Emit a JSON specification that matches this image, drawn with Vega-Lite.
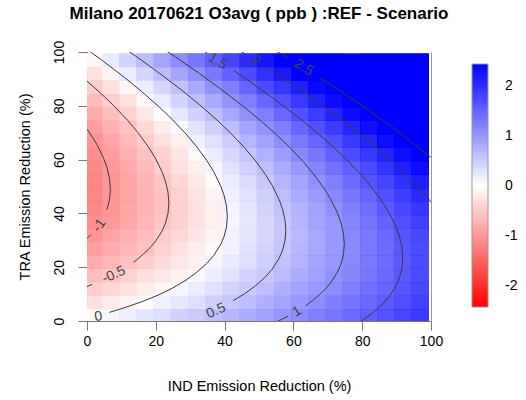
{
"$schema": "https://vega.github.io/schema/vega-lite/v6.json",
"width": 344,
"height": 269,
"autosize": {"type": "none"},
"padding": {"left": 87, "top": 52, "right": 95, "bottom": 79},
"background": "white",
"config": {"font": "Liberation Sans", "view": {"stroke": null}},
"title": {"text": "Milano 20170621 O3avg ( ppb ) :REF - Scenario", "fontSize": 17, "fontWeight": "bold", "font": "Liberation Sans", "color": "black", "anchor": "middle", "offset": 17},
"datasets": {
"grid": [
{"x":2.5,"y":2.5,"v":-0.03},{"x":2.5,"y":7.5,"v":-0.25},{"x":2.5,"y":12.5,"v":-0.44},{"x":2.5,"y":17.5,"v":-0.61},{"x":2.5,"y":22.5,"v":-0.76},{"x":2.5,"y":27.5,"v":-0.88},{"x":2.5,"y":32.5,"v":-0.98},{"x":2.5,"y":37.5,"v":-1.05},{"x":2.5,"y":42.5,"v":-1.10},{"x":2.5,"y":47.5,"v":-1.12},{"x":2.5,"y":52.5,"v":-1.12},{"x":2.5,"y":57.5,"v":-1.10},{"x":2.5,"y":62.5,"v":-1.05},{"x":2.5,"y":67.5,"v":-0.98},{"x":2.5,"y":72.5,"v":-0.89},{"x":2.5,"y":77.5,"v":-0.77},{"x":2.5,"y":82.5,"v":-0.63},{"x":2.5,"y":87.5,"v":-0.46},{"x":2.5,"y":92.5,"v":-0.27},{"x":2.5,"y":97.5,"v":-0.05},
{"x":7.5,"y":2.5,"v":0.05},{"x":7.5,"y":7.5,"v":-0.16},{"x":7.5,"y":12.5,"v":-0.35},{"x":7.5,"y":17.5,"v":-0.51},{"x":7.5,"y":22.5,"v":-0.65},{"x":7.5,"y":27.5,"v":-0.76},{"x":7.5,"y":32.5,"v":-0.85},{"x":7.5,"y":37.5,"v":-0.92},{"x":7.5,"y":42.5,"v":-0.96},{"x":7.5,"y":47.5,"v":-0.98},{"x":7.5,"y":52.5,"v":-0.97},{"x":7.5,"y":57.5,"v":-0.94},{"x":7.5,"y":62.5,"v":-0.89},{"x":7.5,"y":67.5,"v":-0.81},{"x":7.5,"y":72.5,"v":-0.71},{"x":7.5,"y":77.5,"v":-0.58},{"x":7.5,"y":82.5,"v":-0.43},{"x":7.5,"y":87.5,"v":-0.26},{"x":7.5,"y":92.5,"v":-0.06},{"x":7.5,"y":97.5,"v":0.16},
{"x":12.5,"y":2.5,"v":0.13},{"x":12.5,"y":7.5,"v":-0.07},{"x":12.5,"y":12.5,"v":-0.25},{"x":12.5,"y":17.5,"v":-0.41},{"x":12.5,"y":22.5,"v":-0.54},{"x":12.5,"y":27.5,"v":-0.65},{"x":12.5,"y":32.5,"v":-0.73},{"x":12.5,"y":37.5,"v":-0.79},{"x":12.5,"y":42.5,"v":-0.82},{"x":12.5,"y":47.5,"v":-0.83},{"x":12.5,"y":52.5,"v":-0.82},{"x":12.5,"y":57.5,"v":-0.78},{"x":12.5,"y":62.5,"v":-0.72},{"x":12.5,"y":67.5,"v":-0.64},{"x":12.5,"y":72.5,"v":-0.53},{"x":12.5,"y":77.5,"v":-0.39},{"x":12.5,"y":82.5,"v":-0.24},{"x":12.5,"y":87.5,"v":-0.05},{"x":12.5,"y":92.5,"v":0.15},{"x":12.5,"y":97.5,"v":0.38},
{"x":17.5,"y":2.5,"v":0.21},{"x":17.5,"y":7.5,"v":0.02},{"x":17.5,"y":12.5,"v":-0.15},{"x":17.5,"y":17.5,"v":-0.30},{"x":17.5,"y":22.5,"v":-0.43},{"x":17.5,"y":27.5,"v":-0.53},{"x":17.5,"y":32.5,"v":-0.60},{"x":17.5,"y":37.5,"v":-0.65},{"x":17.5,"y":42.5,"v":-0.68},{"x":17.5,"y":47.5,"v":-0.68},{"x":17.5,"y":52.5,"v":-0.66},{"x":17.5,"y":57.5,"v":-0.62},{"x":17.5,"y":62.5,"v":-0.55},{"x":17.5,"y":67.5,"v":-0.46},{"x":17.5,"y":72.5,"v":-0.34},{"x":17.5,"y":77.5,"v":-0.20},{"x":17.5,"y":82.5,"v":-0.04},{"x":17.5,"y":87.5,"v":0.15},{"x":17.5,"y":92.5,"v":0.36},{"x":17.5,"y":97.5,"v":0.60},
{"x":22.5,"y":2.5,"v":0.30},{"x":22.5,"y":7.5,"v":0.11},{"x":22.5,"y":12.5,"v":-0.05},{"x":22.5,"y":17.5,"v":-0.20},{"x":22.5,"y":22.5,"v":-0.31},{"x":22.5,"y":27.5,"v":-0.40},{"x":22.5,"y":32.5,"v":-0.47},{"x":22.5,"y":37.5,"v":-0.52},{"x":22.5,"y":42.5,"v":-0.54},{"x":22.5,"y":47.5,"v":-0.53},{"x":22.5,"y":52.5,"v":-0.51},{"x":22.5,"y":57.5,"v":-0.45},{"x":22.5,"y":62.5,"v":-0.38},{"x":22.5,"y":67.5,"v":-0.28},{"x":22.5,"y":72.5,"v":-0.16},{"x":22.5,"y":77.5,"v":-0.01},{"x":22.5,"y":82.5,"v":0.16},{"x":22.5,"y":87.5,"v":0.36},{"x":22.5,"y":92.5,"v":0.58},{"x":22.5,"y":97.5,"v":0.82},
{"x":27.5,"y":2.5,"v":0.39},{"x":27.5,"y":7.5,"v":0.20},{"x":27.5,"y":12.5,"v":0.05},{"x":27.5,"y":17.5,"v":-0.09},{"x":27.5,"y":22.5,"v":-0.19},{"x":27.5,"y":27.5,"v":-0.28},{"x":27.5,"y":32.5,"v":-0.34},{"x":27.5,"y":37.5,"v":-0.38},{"x":27.5,"y":42.5,"v":-0.39},{"x":27.5,"y":47.5,"v":-0.38},{"x":27.5,"y":52.5,"v":-0.35},{"x":27.5,"y":57.5,"v":-0.29},{"x":27.5,"y":62.5,"v":-0.20},{"x":27.5,"y":67.5,"v":-0.10},{"x":27.5,"y":72.5,"v":0.03},{"x":27.5,"y":77.5,"v":0.19},{"x":27.5,"y":82.5,"v":0.37},{"x":27.5,"y":87.5,"v":0.57},{"x":27.5,"y":92.5,"v":0.80},{"x":27.5,"y":97.5,"v":1.05},
{"x":32.5,"y":2.5,"v":0.48},{"x":32.5,"y":7.5,"v":0.30},{"x":32.5,"y":12.5,"v":0.15},{"x":32.5,"y":17.5,"v":0.03},{"x":32.5,"y":22.5,"v":-0.08},{"x":32.5,"y":27.5,"v":-0.15},{"x":32.5,"y":32.5,"v":-0.21},{"x":32.5,"y":37.5,"v":-0.24},{"x":32.5,"y":42.5,"v":-0.24},{"x":32.5,"y":47.5,"v":-0.23},{"x":32.5,"y":52.5,"v":-0.18},{"x":32.5,"y":57.5,"v":-0.12},{"x":32.5,"y":62.5,"v":-0.03},{"x":32.5,"y":67.5,"v":0.09},{"x":32.5,"y":72.5,"v":0.22},{"x":32.5,"y":77.5,"v":0.39},{"x":32.5,"y":82.5,"v":0.57},{"x":32.5,"y":87.5,"v":0.78},{"x":32.5,"y":92.5,"v":1.02},{"x":32.5,"y":97.5,"v":1.27},
{"x":37.5,"y":2.5,"v":0.57},{"x":37.5,"y":7.5,"v":0.40},{"x":37.5,"y":12.5,"v":0.26},{"x":37.5,"y":17.5,"v":0.14},{"x":37.5,"y":22.5,"v":0.05},{"x":37.5,"y":27.5,"v":-0.03},{"x":37.5,"y":32.5,"v":-0.07},{"x":37.5,"y":37.5,"v":-0.10},{"x":37.5,"y":42.5,"v":-0.09},{"x":37.5,"y":47.5,"v":-0.07},{"x":37.5,"y":52.5,"v":-0.02},{"x":37.5,"y":57.5,"v":0.05},{"x":37.5,"y":62.5,"v":0.15},{"x":37.5,"y":67.5,"v":0.27},{"x":37.5,"y":72.5,"v":0.42},{"x":37.5,"y":77.5,"v":0.59},{"x":37.5,"y":82.5,"v":0.78},{"x":37.5,"y":87.5,"v":1.00},{"x":37.5,"y":92.5,"v":1.24},{"x":37.5,"y":97.5,"v":1.50},
{"x":42.5,"y":2.5,"v":0.66},{"x":42.5,"y":7.5,"v":0.50},{"x":42.5,"y":12.5,"v":0.37},{"x":42.5,"y":17.5,"v":0.26},{"x":42.5,"y":22.5,"v":0.17},{"x":42.5,"y":27.5,"v":0.10},{"x":42.5,"y":32.5,"v":0.07},{"x":42.5,"y":37.5,"v":0.05},{"x":42.5,"y":42.5,"v":0.06},{"x":42.5,"y":47.5,"v":0.09},{"x":42.5,"y":52.5,"v":0.15},{"x":42.5,"y":57.5,"v":0.23},{"x":42.5,"y":62.5,"v":0.33},{"x":42.5,"y":67.5,"v":0.46},{"x":42.5,"y":72.5,"v":0.61},{"x":42.5,"y":77.5,"v":0.79},{"x":42.5,"y":82.5,"v":0.99},{"x":42.5,"y":87.5,"v":1.21},{"x":42.5,"y":92.5,"v":1.46},{"x":42.5,"y":97.5,"v":1.73},
{"x":47.5,"y":2.5,"v":0.76},{"x":47.5,"y":7.5,"v":0.61},{"x":47.5,"y":12.5,"v":0.48},{"x":47.5,"y":17.5,"v":0.37},{"x":47.5,"y":22.5,"v":0.29},{"x":47.5,"y":27.5,"v":0.24},{"x":47.5,"y":32.5,"v":0.21},{"x":47.5,"y":37.5,"v":0.20},{"x":47.5,"y":42.5,"v":0.21},{"x":47.5,"y":47.5,"v":0.25},{"x":47.5,"y":52.5,"v":0.32},{"x":47.5,"y":57.5,"v":0.40},{"x":47.5,"y":62.5,"v":0.51},{"x":47.5,"y":67.5,"v":0.65},{"x":47.5,"y":72.5,"v":0.81},{"x":47.5,"y":77.5,"v":0.99},{"x":47.5,"y":82.5,"v":1.20},{"x":47.5,"y":87.5,"v":1.43},{"x":47.5,"y":92.5,"v":1.69},{"x":47.5,"y":97.5,"v":1.97},
{"x":52.5,"y":2.5,"v":0.86},{"x":52.5,"y":7.5,"v":0.71},{"x":52.5,"y":12.5,"v":0.59},{"x":52.5,"y":17.5,"v":0.49},{"x":52.5,"y":22.5,"v":0.42},{"x":52.5,"y":27.5,"v":0.37},{"x":52.5,"y":32.5,"v":0.35},{"x":52.5,"y":37.5,"v":0.35},{"x":52.5,"y":42.5,"v":0.37},{"x":52.5,"y":47.5,"v":0.42},{"x":52.5,"y":52.5,"v":0.49},{"x":52.5,"y":57.5,"v":0.58},{"x":52.5,"y":62.5,"v":0.70},{"x":52.5,"y":67.5,"v":0.84},{"x":52.5,"y":72.5,"v":1.01},{"x":52.5,"y":77.5,"v":1.20},{"x":52.5,"y":82.5,"v":1.42},{"x":52.5,"y":87.5,"v":1.65},{"x":52.5,"y":92.5,"v":1.92},{"x":52.5,"y":97.5,"v":2.20},
{"x":57.5,"y":2.5,"v":0.96},{"x":57.5,"y":7.5,"v":0.82},{"x":57.5,"y":12.5,"v":0.71},{"x":57.5,"y":17.5,"v":0.62},{"x":57.5,"y":22.5,"v":0.55},{"x":57.5,"y":27.5,"v":0.51},{"x":57.5,"y":32.5,"v":0.49},{"x":57.5,"y":37.5,"v":0.50},{"x":57.5,"y":42.5,"v":0.53},{"x":57.5,"y":47.5,"v":0.58},{"x":57.5,"y":52.5,"v":0.66},{"x":57.5,"y":57.5,"v":0.76},{"x":57.5,"y":62.5,"v":0.89},{"x":57.5,"y":67.5,"v":1.04},{"x":57.5,"y":72.5,"v":1.21},{"x":57.5,"y":77.5,"v":1.41},{"x":57.5,"y":82.5,"v":1.63},{"x":57.5,"y":87.5,"v":1.88},{"x":57.5,"y":92.5,"v":2.15},{"x":57.5,"y":97.5,"v":2.44},
{"x":62.5,"y":2.5,"v":1.06},{"x":62.5,"y":7.5,"v":0.93},{"x":62.5,"y":12.5,"v":0.82},{"x":62.5,"y":17.5,"v":0.74},{"x":62.5,"y":22.5,"v":0.68},{"x":62.5,"y":27.5,"v":0.65},{"x":62.5,"y":32.5,"v":0.64},{"x":62.5,"y":37.5,"v":0.65},{"x":62.5,"y":42.5,"v":0.69},{"x":62.5,"y":47.5,"v":0.75},{"x":62.5,"y":52.5,"v":0.83},{"x":62.5,"y":57.5,"v":0.94},{"x":62.5,"y":62.5,"v":1.08},{"x":62.5,"y":67.5,"v":1.23},{"x":62.5,"y":72.5,"v":1.42},{"x":62.5,"y":77.5,"v":1.62},{"x":62.5,"y":82.5,"v":1.85},{"x":62.5,"y":87.5,"v":2.10},{"x":62.5,"y":92.5,"v":2.38},{"x":62.5,"y":97.5,"v":2.68},
{"x":67.5,"y":2.5,"v":1.17},{"x":67.5,"y":7.5,"v":1.04},{"x":67.5,"y":12.5,"v":0.94},{"x":67.5,"y":17.5,"v":0.87},{"x":67.5,"y":22.5,"v":0.82},{"x":67.5,"y":27.5,"v":0.79},{"x":67.5,"y":32.5,"v":0.79},{"x":67.5,"y":37.5,"v":0.81},{"x":67.5,"y":42.5,"v":0.85},{"x":67.5,"y":47.5,"v":0.92},{"x":67.5,"y":52.5,"v":1.01},{"x":67.5,"y":57.5,"v":1.13},{"x":67.5,"y":62.5,"v":1.27},{"x":67.5,"y":67.5,"v":1.43},{"x":67.5,"y":72.5,"v":1.62},{"x":67.5,"y":77.5,"v":1.83},{"x":67.5,"y":82.5,"v":2.07},{"x":67.5,"y":87.5,"v":2.33},{"x":67.5,"y":92.5,"v":2.61},{"x":67.5,"y":97.5,"v":2.92},
{"x":72.5,"y":2.5,"v":1.27},{"x":72.5,"y":7.5,"v":1.16},{"x":72.5,"y":12.5,"v":1.07},{"x":72.5,"y":17.5,"v":1.00},{"x":72.5,"y":22.5,"v":0.95},{"x":72.5,"y":27.5,"v":0.93},{"x":72.5,"y":32.5,"v":0.94},{"x":72.5,"y":37.5,"v":0.96},{"x":72.5,"y":42.5,"v":1.02},{"x":72.5,"y":47.5,"v":1.09},{"x":72.5,"y":52.5,"v":1.19},{"x":72.5,"y":57.5,"v":1.31},{"x":72.5,"y":62.5,"v":1.46},{"x":72.5,"y":67.5,"v":1.63},{"x":72.5,"y":72.5,"v":1.83},{"x":72.5,"y":77.5,"v":2.05},{"x":72.5,"y":82.5,"v":2.29},{"x":72.5,"y":87.5,"v":2.56},{"x":72.5,"y":92.5,"v":2.85},{"x":72.5,"y":97.5,"v":3.17},
{"x":77.5,"y":2.5,"v":1.38},{"x":77.5,"y":7.5,"v":1.28},{"x":77.5,"y":12.5,"v":1.19},{"x":77.5,"y":17.5,"v":1.13},{"x":77.5,"y":22.5,"v":1.09},{"x":77.5,"y":27.5,"v":1.08},{"x":77.5,"y":32.5,"v":1.09},{"x":77.5,"y":37.5,"v":1.12},{"x":77.5,"y":42.5,"v":1.18},{"x":77.5,"y":47.5,"v":1.27},{"x":77.5,"y":52.5,"v":1.37},{"x":77.5,"y":57.5,"v":1.50},{"x":77.5,"y":62.5,"v":1.66},{"x":77.5,"y":67.5,"v":1.84},{"x":77.5,"y":72.5,"v":2.04},{"x":77.5,"y":77.5,"v":2.27},{"x":77.5,"y":82.5,"v":2.52},{"x":77.5,"y":87.5,"v":2.79},{"x":77.5,"y":92.5,"v":3.09},{"x":77.5,"y":97.5,"v":3.41},
{"x":82.5,"y":2.5,"v":1.50},{"x":82.5,"y":7.5,"v":1.39},{"x":82.5,"y":12.5,"v":1.32},{"x":82.5,"y":17.5,"v":1.26},{"x":82.5,"y":22.5,"v":1.23},{"x":82.5,"y":27.5,"v":1.23},{"x":82.5,"y":32.5,"v":1.24},{"x":82.5,"y":37.5,"v":1.29},{"x":82.5,"y":42.5,"v":1.35},{"x":82.5,"y":47.5,"v":1.44},{"x":82.5,"y":52.5,"v":1.56},{"x":82.5,"y":57.5,"v":1.69},{"x":82.5,"y":62.5,"v":1.86},{"x":82.5,"y":67.5,"v":2.04},{"x":82.5,"y":72.5,"v":2.25},{"x":82.5,"y":77.5,"v":2.49},{"x":82.5,"y":82.5,"v":2.74},{"x":82.5,"y":87.5,"v":3.03},{"x":82.5,"y":92.5,"v":3.33},{"x":82.5,"y":97.5,"v":3.66},
{"x":87.5,"y":2.5,"v":1.61},{"x":87.5,"y":7.5,"v":1.52},{"x":87.5,"y":12.5,"v":1.44},{"x":87.5,"y":17.5,"v":1.40},{"x":87.5,"y":22.5,"v":1.37},{"x":87.5,"y":27.5,"v":1.38},{"x":87.5,"y":32.5,"v":1.40},{"x":87.5,"y":37.5,"v":1.45},{"x":87.5,"y":42.5,"v":1.52},{"x":87.5,"y":47.5,"v":1.62},{"x":87.5,"y":52.5,"v":1.74},{"x":87.5,"y":57.5,"v":1.89},{"x":87.5,"y":62.5,"v":2.06},{"x":87.5,"y":67.5,"v":2.25},{"x":87.5,"y":72.5,"v":2.47},{"x":87.5,"y":77.5,"v":2.71},{"x":87.5,"y":82.5,"v":2.97},{"x":87.5,"y":87.5,"v":3.26},{"x":87.5,"y":92.5,"v":3.58},{"x":87.5,"y":97.5,"v":3.91},
{"x":92.5,"y":2.5,"v":1.73},{"x":92.5,"y":7.5,"v":1.64},{"x":92.5,"y":12.5,"v":1.57},{"x":92.5,"y":17.5,"v":1.54},{"x":92.5,"y":22.5,"v":1.52},{"x":92.5,"y":27.5,"v":1.53},{"x":92.5,"y":32.5,"v":1.56},{"x":92.5,"y":37.5,"v":1.62},{"x":92.5,"y":42.5,"v":1.70},{"x":92.5,"y":47.5,"v":1.80},{"x":92.5,"y":52.5,"v":1.93},{"x":92.5,"y":57.5,"v":2.08},{"x":92.5,"y":62.5,"v":2.26},{"x":92.5,"y":67.5,"v":2.46},{"x":92.5,"y":72.5,"v":2.68},{"x":92.5,"y":77.5,"v":2.93},{"x":92.5,"y":82.5,"v":3.20},{"x":92.5,"y":87.5,"v":3.50},{"x":92.5,"y":92.5,"v":3.82},{"x":92.5,"y":97.5,"v":4.17},
{"x":97.5,"y":2.5,"v":1.84},{"x":97.5,"y":7.5,"v":1.76},{"x":97.5,"y":12.5,"v":1.71},{"x":97.5,"y":17.5,"v":1.68},{"x":97.5,"y":22.5,"v":1.67},{"x":97.5,"y":27.5,"v":1.68},{"x":97.5,"y":32.5,"v":1.72},{"x":97.5,"y":37.5,"v":1.79},{"x":97.5,"y":42.5,"v":1.87},{"x":97.5,"y":47.5,"v":1.98},{"x":97.5,"y":52.5,"v":2.12},{"x":97.5,"y":57.5,"v":2.28},{"x":97.5,"y":62.5,"v":2.46},{"x":97.5,"y":67.5,"v":2.67},{"x":97.5,"y":72.5,"v":2.90},{"x":97.5,"y":77.5,"v":3.16},{"x":97.5,"y":82.5,"v":3.44},{"x":97.5,"y":87.5,"v":3.74},{"x":97.5,"y":92.5,"v":4.07},{"x":97.5,"y":97.5,"v":4.42}
],
"contours": [
{"s":"m1a","o":1,"x":-2.2,"y":75.2},{"s":"m1a","o":2,"x":0.8,"y":69.9},{"s":"m1a","o":3,"x":2.8,"y":65.8},{"s":"m1a","o":4,"x":4.8,"y":60.6},{"s":"m1a","o":5,"x":5.8,"y":57.1},{"s":"m1a","o":6,"x":6.55,"y":52.95},{"s":"m1a","o":7,"x":6.8,"y":48.96},{"s":"m1a","o":8,"x":6.55,"y":45.1},{"s":"m1a","o":9,"x":5.8,"y":41.4},
{"s":"m1b","o":1,"x":1.2,"y":32.1},{"s":"m1b","o":2,"x":-2.2,"y":28.2},
{"s":"m05a","o":1,"x":-1.2,"y":90.5},{"s":"m05a","o":2,"x":3.8,"y":84.9},{"s":"m05a","o":3,"x":7.8,"y":80.0},{"s":"m05a","o":4,"x":11.8,"y":74.6},{"s":"m05a","o":5,"x":14.8,"y":70.05},{"s":"m05a","o":6,"x":17.8,"y":64.8},{"s":"m05a","o":7,"x":19.8,"y":60.7},{"s":"m05a","o":8,"x":21.8,"y":55.5},{"s":"m05a","o":9,"x":22.8,"y":52.0},{"s":"m05a","o":10,"x":23.55,"y":47.85},{"s":"m05a","o":11,"x":23.8,"y":43.86},{"s":"m05a","o":12,"x":23.55,"y":40.0},{"s":"m05a","o":13,"x":22.8,"y":36.3},{"s":"m05a","o":14,"x":21.8,"y":33.4},{"s":"m05a","o":15,"x":19.8,"y":29.4},{"s":"m05a","o":16,"x":17.8,"y":26.5},{"s":"m05a","o":17,"x":14.8,"y":23.1},{"s":"m05a","o":18,"x":13.5,"y":21.8},
{"s":"m05b","o":1,"x":1.5,"y":13.6},{"s":"m05b","o":2,"x":-1.2,"y":12.2},
{"s":"z0","o":1,"x":-1.2,"y":102.1},{"s":"z0","o":2,"x":4.8,"y":96.5},{"s":"z0","o":3,"x":10.8,"y":90.65},{"s":"z0","o":4,"x":15.8,"y":85.4},{"s":"z0","o":5,"x":20.8,"y":79.8},{"s":"z0","o":6,"x":24.8,"y":74.9},{"s":"z0","o":7,"x":28.8,"y":69.5},{"s":"z0","o":8,"x":31.8,"y":64.95},{"s":"z0","o":9,"x":34.8,"y":59.7},{"s":"z0","o":10,"x":36.8,"y":55.6},{"s":"z0","o":11,"x":38.8,"y":50.4},{"s":"z0","o":12,"x":39.8,"y":46.9},{"s":"z0","o":13,"x":40.55,"y":42.75},{"s":"z0","o":14,"x":40.8,"y":38.76},{"s":"z0","o":15,"x":40.55,"y":34.9},{"s":"z0","o":16,"x":39.8,"y":31.2},{"s":"z0","o":17,"x":38.8,"y":28.3},{"s":"z0","o":18,"x":36.8,"y":24.3},{"s":"z0","o":19,"x":34.8,"y":21.4},{"s":"z0","o":20,"x":31.8,"y":18.0},{"s":"z0","o":21,"x":28.8,"y":15.2},{"s":"z0","o":22,"x":24.8,"y":12.2},{"s":"z0","o":23,"x":20.8,"y":9.7},{"s":"z0","o":24,"x":15.8,"y":7.1},{"s":"z0","o":25,"x":10.8,"y":4.9},{"s":"z0","o":26,"x":6.5,"y":3.2},
{"s":"p05","o":1,"x":8.8,"y":103.2},{"s":"p05","o":2,"x":15.8,"y":97.0},{"s":"p05","o":3,"x":21.8,"y":91.4},{"s":"p05","o":4,"x":27.8,"y":85.55},{"s":"p05","o":5,"x":32.8,"y":80.3},{"s":"p05","o":6,"x":37.8,"y":74.7},{"s":"p05","o":7,"x":41.8,"y":69.8},{"s":"p05","o":8,"x":45.8,"y":64.4},{"s":"p05","o":9,"x":48.8,"y":59.85},{"s":"p05","o":10,"x":51.8,"y":54.6},{"s":"p05","o":11,"x":53.8,"y":50.5},{"s":"p05","o":12,"x":55.8,"y":45.3},{"s":"p05","o":13,"x":56.8,"y":41.8},{"s":"p05","o":14,"x":57.55,"y":37.65},{"s":"p05","o":15,"x":57.8,"y":33.66},{"s":"p05","o":16,"x":57.55,"y":29.8},{"s":"p05","o":17,"x":56.8,"y":26.1},{"s":"p05","o":18,"x":55.8,"y":23.2},{"s":"p05","o":19,"x":53.8,"y":19.2},{"s":"p05","o":20,"x":51.8,"y":16.3},{"s":"p05","o":21,"x":48.8,"y":12.9},{"s":"p05","o":22,"x":45.8,"y":10.1},{"s":"p05","o":23,"x":42.5,"y":7.6},
{"s":"p1a","o":1,"x":18.8,"y":103.95},{"s":"p1a","o":2,"x":25.8,"y":98.1},{"s":"p1a","o":3,"x":32.8,"y":91.9},{"s":"p1a","o":4,"x":38.8,"y":86.3},{"s":"p1a","o":5,"x":44.8,"y":80.45},{"s":"p1a","o":6,"x":49.8,"y":75.2},{"s":"p1a","o":7,"x":54.8,"y":69.6},{"s":"p1a","o":8,"x":58.8,"y":64.7},{"s":"p1a","o":9,"x":62.8,"y":59.3},{"s":"p1a","o":10,"x":65.8,"y":54.75},{"s":"p1a","o":11,"x":68.8,"y":49.5},{"s":"p1a","o":12,"x":70.8,"y":45.4},{"s":"p1a","o":13,"x":72.8,"y":40.2},{"s":"p1a","o":14,"x":73.8,"y":36.7},{"s":"p1a","o":15,"x":74.55,"y":32.55},{"s":"p1a","o":16,"x":74.8,"y":28.56},{"s":"p1a","o":17,"x":74.55,"y":24.7},{"s":"p1a","o":18,"x":73.8,"y":21.0},{"s":"p1a","o":19,"x":72.8,"y":18.1},{"s":"p1a","o":20,"x":70.8,"y":14.1},{"s":"p1a","o":21,"x":68.8,"y":11.2},{"s":"p1a","o":22,"x":65.8,"y":7.8},{"s":"p1a","o":23,"x":63.5,"y":5.6},
{"s":"p1b","o":1,"x":58.5,"y":1.8},{"s":"p1b","o":2,"x":54.8,"y":-0.5},
{"s":"p15a","o":1,"x":79.0,"y":-0.7},{"s":"p15a","o":2,"x":82.8,"y":2.7},{"s":"p15a","o":3,"x":85.8,"y":6.1},{"s":"p15a","o":4,"x":87.8,"y":9.0},{"s":"p15a","o":5,"x":89.8,"y":13.0},{"s":"p15a","o":6,"x":90.8,"y":15.9},{"s":"p15a","o":7,"x":91.55,"y":19.6},{"s":"p15a","o":8,"x":91.8,"y":23.46},{"s":"p15a","o":9,"x":91.55,"y":27.45},{"s":"p15a","o":10,"x":90.8,"y":31.6},{"s":"p15a","o":11,"x":89.8,"y":35.1},{"s":"p15a","o":12,"x":87.8,"y":40.3},{"s":"p15a","o":13,"x":85.8,"y":44.4},{"s":"p15a","o":14,"x":82.8,"y":49.65},{"s":"p15a","o":15,"x":79.8,"y":54.2},{"s":"p15a","o":16,"x":75.8,"y":59.6},{"s":"p15a","o":17,"x":71.8,"y":64.5},{"s":"p15a","o":18,"x":66.8,"y":70.1},{"s":"p15a","o":19,"x":61.8,"y":75.35},{"s":"p15a","o":20,"x":55.8,"y":81.2},{"s":"p15a","o":21,"x":49.8,"y":86.8},{"s":"p15a","o":22,"x":42.8,"y":93.0},
{"s":"p15b","o":1,"x":30.0,"y":103.6},{"s":"p15b","o":2,"x":35.0,"y":99.5},
{"s":"p2a","o":1,"x":102.8,"y":39.3},{"s":"p2a","o":2,"x":99.8,"y":44.55},{"s":"p2a","o":3,"x":96.8,"y":49.1},{"s":"p2a","o":4,"x":92.8,"y":54.5},{"s":"p2a","o":5,"x":88.8,"y":59.4},{"s":"p2a","o":6,"x":83.8,"y":65.0},{"s":"p2a","o":7,"x":78.8,"y":70.25},{"s":"p2a","o":8,"x":72.8,"y":76.1},{"s":"p2a","o":9,"x":66.8,"y":81.7},{"s":"p2a","o":10,"x":59.8,"y":87.9},{"s":"p2a","o":11,"x":52.0,"y":94.4},
{"s":"p2b","o":1,"x":43.0,"y":101.6},{"s":"p2b","o":2,"x":46.0,"y":99.25},
{"s":"p25a","o":1,"x":102.0,"y":58.6},{"s":"p25a","o":2,"x":100.0,"y":60.8},{"s":"p25a","o":3,"x":96.8,"y":64.1},{"s":"p25a","o":4,"x":91.8,"y":69.1},{"s":"p25a","o":5,"x":86.8,"y":73.9},{"s":"p25a","o":6,"x":81.8,"y":78.4},{"s":"p25a","o":7,"x":76.8,"y":82.8},{"s":"p25a","o":8,"x":71.8,"y":87.0},{"s":"p25a","o":9,"x":67.5,"y":90.5},
{"s":"p25b","o":1,"x":51.8,"y":102.8},{"s":"p25b","o":2,"x":56.8,"y":99.0},{"s":"p25b","o":3,"x":58.5,"y":97.7}
],
"labels": [
{"t":"-1","x":3.6,"y":35.5},
{"t":"-0.5","x":7.8,"y":17.2},
{"t":"0","x":3.3,"y":1.6},
{"t":"0.5","x":37.5,"y":3.8},
{"t":"1","x":61.0,"y":3.5},
{"t":"1.5","x":38.0,"y":96.5},
{"t":"2","x":49.0,"y":96.8},
{"t":"2.5","x":63.0,"y":94.2}
]
},
"layer": [
{
"data": {"name": "grid"},
"transform": [
{"bin": {"step": 5, "extent": [0, 100], "nice": false}, "field": "x", "as": ["x0", "x1"]},
{"bin": {"step": 5, "extent": [0, 100], "nice": false}, "field": "y", "as": ["y0", "y1"]}
],
"mark": {"type": "rect", "clip": true},
"encoding": {
"x": {"field": "x0", "type": "quantitative", "scale": {"domain": [0, 100], "nice": false, "zero": false},
"axis": {"title": "IND Emission Reduction (%)", "values": [0, 20, 40, 60, 80, 100], "grid": false, "tickSize": 9, "tickColor": "#777", "domainColor": "#777", "labelFontSize": 14, "labelColor": "black", "labelPadding": 4, "labelFlush": false, "titleFontSize": 14.5, "titleFontWeight": "normal", "titleColor": "black", "titlePadding": 31}},
"x2": {"field": "x1"},
"y": {"field": "y0", "type": "quantitative", "scale": {"domain": [0, 100], "nice": false, "zero": false},
"axis": {"title": "TRA Emission Reduction (%)", "values": [0, 20, 40, 60, 80, 100], "grid": false, "tickSize": 9, "tickColor": "#777", "domainColor": "#777", "labelFontSize": 14, "labelColor": "black", "labelAngle": -90, "labelAlign": "center", "labelBaseline": "bottom", "labelPadding": 12, "labelFlush": false, "titleFontSize": 14.5, "titleFontWeight": "normal", "titleColor": "black", "titlePadding": 20}},
"y2": {"field": "y1"},
"color": {"field": "v", "type": "quantitative",
"scale": {"type": "linear", "domain": [-2.43, 2.43], "range": ["#ff0000", "#ffffff", "#0000ff"], "clamp": true, "interpolate": "rgb"},
"legend": {"type": "gradient", "orient": "none", "legendX": 385, "legendY": 12, "direction": "vertical", "gradientLength": 243, "gradientThickness": 16, "title": null, "values": [-2, -1, 0, 1, 2], "labelExpr": "datum.value < 0 ? '-' + abs(datum.value) : '' + datum.value", "labelFontSize": 14, "labelColor": "black", "labelOffset": 17, "gradientStrokeColor": "#999", "gradientStrokeWidth": 1}}
}
},
{"data":{"name":"grid"},"transform":[{"bin":{"step":5,"extent":[-10,110],"anchor":-1.875},"field":"x","as":["x0","x1"]},{"bin":{"step":5,"extent":[-10,110],"anchor":-1.875},"field":"y","as":["y0","y1"]}],"mark":{"type":"rect","clip":true,"opacity":1},"encoding":{"x":{"field":"x0","type":"quantitative","axis":null},"x2":{"field":"x1"},"y":{"field":"y0","type":"quantitative","axis":null},"y2":{"field":"y1"},"color":{"field":"v","type":"quantitative"}}},
{"data":{"name":"grid"},"transform":[{"bin":{"step":5,"extent":[-10,110],"anchor":0.625},"field":"x","as":["x0","x1"]},{"bin":{"step":5,"extent":[-10,110],"anchor":0.625},"field":"y","as":["y0","y1"]}],"mark":{"type":"rect","clip":true,"opacity":0.5},"encoding":{"x":{"field":"x0","type":"quantitative","axis":null},"x2":{"field":"x1"},"y":{"field":"y0","type":"quantitative","axis":null},"y2":{"field":"y1"},"color":{"field":"v","type":"quantitative"}}},
{"data":{"name":"grid"},"transform":[{"bin":{"step":5,"extent":[-10,110],"anchor":-0.625},"field":"x","as":["x0","x1"]},{"bin":{"step":5,"extent":[-10,110],"anchor":1.875},"field":"y","as":["y0","y1"]}],"mark":{"type":"rect","clip":true,"opacity":0.3333},"encoding":{"x":{"field":"x0","type":"quantitative","axis":null},"x2":{"field":"x1"},"y":{"field":"y0","type":"quantitative","axis":null},"y2":{"field":"y1"},"color":{"field":"v","type":"quantitative"}}},
{"data":{"name":"grid"},"transform":[{"bin":{"step":5,"extent":[-10,110],"anchor":1.875},"field":"x","as":["x0","x1"]},{"bin":{"step":5,"extent":[-10,110],"anchor":-0.625},"field":"y","as":["y0","y1"]}],"mark":{"type":"rect","clip":true,"opacity":0.25},"encoding":{"x":{"field":"x0","type":"quantitative","axis":null},"x2":{"field":"x1"},"y":{"field":"y0","type":"quantitative","axis":null},"y2":{"field":"y1"},"color":{"field":"v","type":"quantitative"}}},
{"data":{"name":"grid"},"transform":[{"bin":{"step":5,"extent":[-10,110],"anchor":-1.875},"field":"x","as":["x0","x1"]},{"bin":{"step":5,"extent":[-10,110],"anchor":0.625},"field":"y","as":["y0","y1"]}],"mark":{"type":"rect","clip":true,"opacity":0.2},"encoding":{"x":{"field":"x0","type":"quantitative","axis":null},"x2":{"field":"x1"},"y":{"field":"y0","type":"quantitative","axis":null},"y2":{"field":"y1"},"color":{"field":"v","type":"quantitative"}}},
{"data":{"name":"grid"},"transform":[{"bin":{"step":5,"extent":[-10,110],"anchor":0.625},"field":"x","as":["x0","x1"]},{"bin":{"step":5,"extent":[-10,110],"anchor":-1.875},"field":"y","as":["y0","y1"]}],"mark":{"type":"rect","clip":true,"opacity":0.1667},"encoding":{"x":{"field":"x0","type":"quantitative","axis":null},"x2":{"field":"x1"},"y":{"field":"y0","type":"quantitative","axis":null},"y2":{"field":"y1"},"color":{"field":"v","type":"quantitative"}}},
{"data":{"name":"grid"},"transform":[{"bin":{"step":5,"extent":[-10,110],"anchor":-0.625},"field":"x","as":["x0","x1"]},{"bin":{"step":5,"extent":[-10,110],"anchor":-0.625},"field":"y","as":["y0","y1"]}],"mark":{"type":"rect","clip":true,"opacity":0.1429},"encoding":{"x":{"field":"x0","type":"quantitative","axis":null},"x2":{"field":"x1"},"y":{"field":"y0","type":"quantitative","axis":null},"y2":{"field":"y1"},"color":{"field":"v","type":"quantitative"}}},
{"data":{"name":"grid"},"transform":[{"bin":{"step":5,"extent":[-10,110],"anchor":1.875},"field":"x","as":["x0","x1"]},{"bin":{"step":5,"extent":[-10,110],"anchor":1.875},"field":"y","as":["y0","y1"]}],"mark":{"type":"rect","clip":true,"opacity":0.125},"encoding":{"x":{"field":"x0","type":"quantitative","axis":null},"x2":{"field":"x1"},"y":{"field":"y0","type":"quantitative","axis":null},"y2":{"field":"y1"},"color":{"field":"v","type":"quantitative"}}},
{"data":{"name":"grid"},"transform":[{"bin":{"step":5,"extent":[-10,110],"anchor":-1.875},"field":"x","as":["x0","x1"]},{"bin":{"step":5,"extent":[-10,110],"anchor":-0.625},"field":"y","as":["y0","y1"]}],"mark":{"type":"rect","clip":true,"opacity":0.1111},"encoding":{"x":{"field":"x0","type":"quantitative","axis":null},"x2":{"field":"x1"},"y":{"field":"y0","type":"quantitative","axis":null},"y2":{"field":"y1"},"color":{"field":"v","type":"quantitative"}}},
{"data":{"name":"grid"},"transform":[{"bin":{"step":5,"extent":[-10,110],"anchor":0.625},"field":"x","as":["x0","x1"]},{"bin":{"step":5,"extent":[-10,110],"anchor":1.875},"field":"y","as":["y0","y1"]}],"mark":{"type":"rect","clip":true,"opacity":0.1},"encoding":{"x":{"field":"x0","type":"quantitative","axis":null},"x2":{"field":"x1"},"y":{"field":"y0","type":"quantitative","axis":null},"y2":{"field":"y1"},"color":{"field":"v","type":"quantitative"}}},
{"data":{"name":"grid"},"transform":[{"bin":{"step":5,"extent":[-10,110],"anchor":-0.625},"field":"x","as":["x0","x1"]},{"bin":{"step":5,"extent":[-10,110],"anchor":-1.875},"field":"y","as":["y0","y1"]}],"mark":{"type":"rect","clip":true,"opacity":0.0909},"encoding":{"x":{"field":"x0","type":"quantitative","axis":null},"x2":{"field":"x1"},"y":{"field":"y0","type":"quantitative","axis":null},"y2":{"field":"y1"},"color":{"field":"v","type":"quantitative"}}},
{"data":{"name":"grid"},"transform":[{"bin":{"step":5,"extent":[-10,110],"anchor":1.875},"field":"x","as":["x0","x1"]},{"bin":{"step":5,"extent":[-10,110],"anchor":0.625},"field":"y","as":["y0","y1"]}],"mark":{"type":"rect","clip":true,"opacity":0.0833},"encoding":{"x":{"field":"x0","type":"quantitative","axis":null},"x2":{"field":"x1"},"y":{"field":"y0","type":"quantitative","axis":null},"y2":{"field":"y1"},"color":{"field":"v","type":"quantitative"}}},
{"data":{"name":"grid"},"transform":[{"bin":{"step":5,"extent":[-10,110],"anchor":-1.875},"field":"x","as":["x0","x1"]},{"bin":{"step":5,"extent":[-10,110],"anchor":1.875},"field":"y","as":["y0","y1"]}],"mark":{"type":"rect","clip":true,"opacity":0.0769},"encoding":{"x":{"field":"x0","type":"quantitative","axis":null},"x2":{"field":"x1"},"y":{"field":"y0","type":"quantitative","axis":null},"y2":{"field":"y1"},"color":{"field":"v","type":"quantitative"}}},
{"data":{"name":"grid"},"transform":[{"bin":{"step":5,"extent":[-10,110],"anchor":0.625},"field":"x","as":["x0","x1"]},{"bin":{"step":5,"extent":[-10,110],"anchor":-0.625},"field":"y","as":["y0","y1"]}],"mark":{"type":"rect","clip":true,"opacity":0.0714},"encoding":{"x":{"field":"x0","type":"quantitative","axis":null},"x2":{"field":"x1"},"y":{"field":"y0","type":"quantitative","axis":null},"y2":{"field":"y1"},"color":{"field":"v","type":"quantitative"}}},
{"data":{"name":"grid"},"transform":[{"bin":{"step":5,"extent":[-10,110],"anchor":-0.625},"field":"x","as":["x0","x1"]},{"bin":{"step":5,"extent":[-10,110],"anchor":0.625},"field":"y","as":["y0","y1"]}],"mark":{"type":"rect","clip":true,"opacity":0.0667},"encoding":{"x":{"field":"x0","type":"quantitative","axis":null},"x2":{"field":"x1"},"y":{"field":"y0","type":"quantitative","axis":null},"y2":{"field":"y1"},"color":{"field":"v","type":"quantitative"}}},
{"data":{"name":"grid"},"transform":[{"bin":{"step":5,"extent":[-10,110],"anchor":1.875},"field":"x","as":["x0","x1"]},{"bin":{"step":5,"extent":[-10,110],"anchor":-1.875},"field":"y","as":["y0","y1"]}],"mark":{"type":"rect","clip":true,"opacity":0.0625},"encoding":{"x":{"field":"x0","type":"quantitative","axis":null},"x2":{"field":"x1"},"y":{"field":"y0","type":"quantitative","axis":null},"y2":{"field":"y1"},"color":{"field":"v","type":"quantitative"}}},
{
"data": {"name": "contours"},
"mark": {"type": "line", "clip": true, "color": "#3a3a3a", "strokeWidth": 1},
"encoding": {
"x": {"field": "x", "type": "quantitative", "axis": null},
"y": {"field": "y", "type": "quantitative",
"axis": {"orient": "right", "labels": false, "ticks": false, "title": null, "grid": false, "domainColor": "#999"}},
"detail": {"field": "s", "type": "nominal"},
"order": {"field": "o", "type": "quantitative"}
}
},
{
"data": {"name": "labels"},
"transform": [{"filter": "datum.t == '-1'"}],
"mark": {"type": "text", "angle": -55, "fontSize": 14, "color": "#444", "align": "center", "baseline": "middle"},
"encoding": {"x": {"field": "x", "type": "quantitative", "axis": null}, "y": {"field": "y", "type": "quantitative", "axis": null}, "text": {"field": "t"}}
},
{
"data": {"name": "labels"},
"transform": [{"filter": "datum.t == '-0.5' || datum.t == '0.5'"}],
"mark": {"type": "text", "angle": -24, "fontSize": 14, "color": "#444", "align": "center", "baseline": "middle"},
"encoding": {"x": {"field": "x", "type": "quantitative", "axis": null}, "y": {"field": "y", "type": "quantitative", "axis": null}, "text": {"field": "t"}}
},
{
"data": {"name": "labels"},
"transform": [{"filter": "datum.t == '0'"}],
"mark": {"type": "text", "angle": -10, "fontSize": 14, "color": "#444", "align": "center", "baseline": "middle"},
"encoding": {"x": {"field": "x", "type": "quantitative", "axis": null}, "y": {"field": "y", "type": "quantitative", "axis": null}, "text": {"field": "t"}}
},
{
"data": {"name": "labels"},
"transform": [{"filter": "datum.t == '1'"}],
"mark": {"type": "text", "angle": -32, "fontSize": 14, "color": "#444", "align": "center", "baseline": "middle"},
"encoding": {"x": {"field": "x", "type": "quantitative", "axis": null}, "y": {"field": "y", "type": "quantitative", "axis": null}, "text": {"field": "t"}}
},
{
"data": {"name": "labels"},
"transform": [{"filter": "datum.t == '1.5' || datum.t == '2' || datum.t == '2.5'"}],
"mark": {"type": "text", "angle": 32, "fontSize": 14, "color": "#444", "align": "center", "baseline": "middle"},
"encoding": {"x": {"field": "x", "type": "quantitative", "axis": null}, "y": {"field": "y", "type": "quantitative", "axis": null}, "text": {"field": "t"}}
}
],
"resolve": {"axis": {"x": "independent", "y": "independent"}}
}
